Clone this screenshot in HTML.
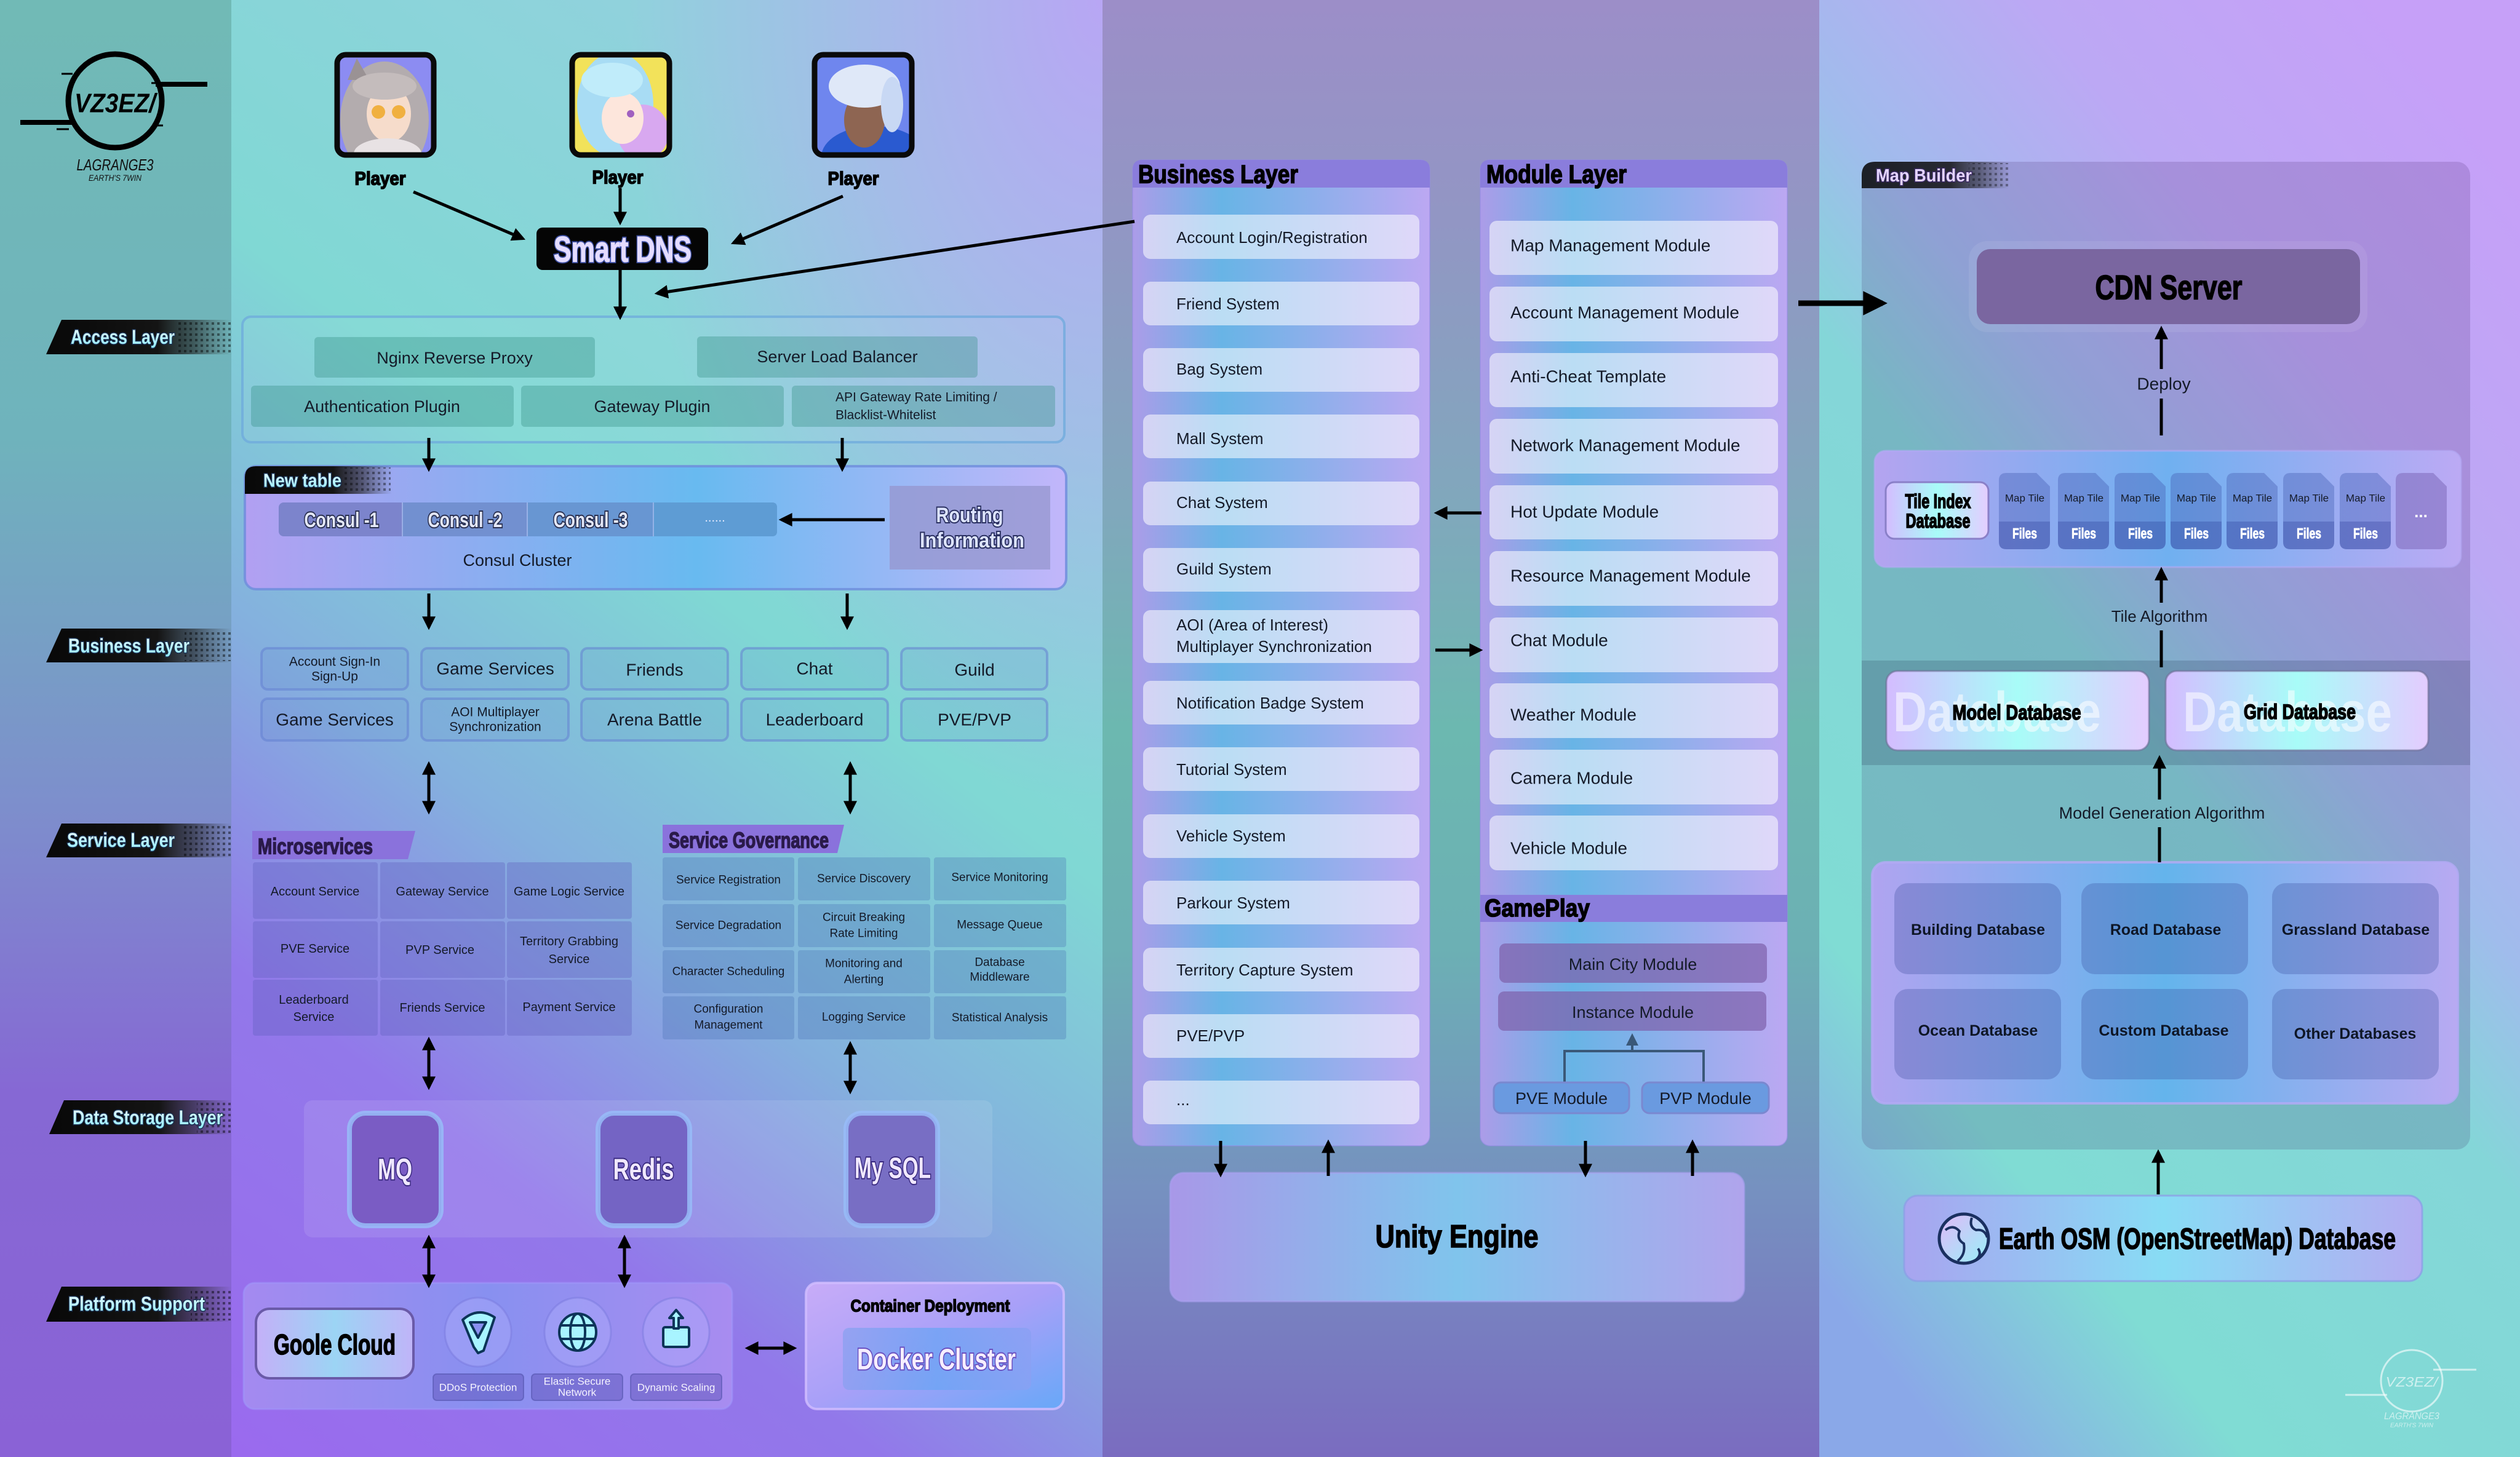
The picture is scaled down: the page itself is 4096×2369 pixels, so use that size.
<!DOCTYPE html>
<html><head><meta charset="utf-8"><style>
html,body{margin:0;padding:0;width:4096px;height:2369px;overflow:hidden;background:#80c8d0;}
svg{display:block}
text{font-family:"Liberation Sans",sans-serif;dominant-baseline:central;}
.h{font-weight:700;}
.d{fill:#141a28;}
.hk{font-weight:700;fill:#000;stroke:#000;stroke-width:1.6;}
</style></head><body>
<svg width="4096" height="2369" viewBox="0 0 4096 2369" xmlns="http://www.w3.org/2000/svg">
<defs>
<linearGradient id="gP1" x1="0" y1="0" x2="0" y2="1">
<stop offset="0" stop-color="#71bab6"/><stop offset="0.3" stop-color="#6fb3bc"/><stop offset="0.55" stop-color="#7d8fcc"/><stop offset="0.75" stop-color="#8668d4"/><stop offset="1" stop-color="#8a62d6"/></linearGradient>
<linearGradient id="gP2" x1="0.45" y1="0" x2="0" y2="1">
<stop offset="0" stop-color="#90d2dc"/><stop offset="0.3" stop-color="#80d8d4"/><stop offset="0.52" stop-color="#84b0de"/><stop offset="0.72" stop-color="#9278ea"/><stop offset="1" stop-color="#9a6aee"/></linearGradient>
<radialGradient id="gP2r" cx="1" cy="0" r="0.55"><stop offset="0" stop-color="#b8a6f4" stop-opacity="1"/><stop offset="1" stop-color="#b8a6f4" stop-opacity="0"/></radialGradient>
<linearGradient id="gP3" x1="0" y1="0" x2="0" y2="1">
<stop offset="0" stop-color="#9c8ec8"/><stop offset="0.15" stop-color="#9296c4"/><stop offset="0.35" stop-color="#80a8bc"/><stop offset="0.5" stop-color="#6cb8b0"/><stop offset="0.65" stop-color="#6cb0b4"/><stop offset="0.82" stop-color="#7690c0"/><stop offset="1" stop-color="#7a6cc0"/></linearGradient>
<linearGradient id="gP4" x1="0.8" y1="0" x2="0.2" y2="1">
<stop offset="0" stop-color="#c6a0f8"/><stop offset="0.22" stop-color="#bca8f4"/><stop offset="0.4" stop-color="#a0bcec"/><stop offset="0.52" stop-color="#84d6d8"/><stop offset="0.82" stop-color="#80dcd4"/><stop offset="1" stop-color="#8aa8e8"/></linearGradient>
<linearGradient id="gTag" x1="0" y1="0" x2="1" y2="0">
<stop offset="0" stop-color="#080808"/><stop offset="0.6" stop-color="#141414"/><stop offset="0.8" stop-color="#202020" stop-opacity="0.6"/><stop offset="1" stop-color="#303030" stop-opacity="0"/></linearGradient>
<linearGradient id="gTagT" x1="0" y1="0" x2="0" y2="1"><stop offset="0" stop-color="#f0ffff"/><stop offset="1" stop-color="#90ecff"/></linearGradient>
<linearGradient id="gNew" x1="0" y1="0" x2="1" y2="0"><stop offset="0" stop-color="#b2a0f2"/><stop offset="0.55" stop-color="#68baf0"/><stop offset="1" stop-color="#c2b6fa"/></linearGradient>
<linearGradient id="gCol" x1="0" y1="0" x2="1" y2="0"><stop offset="0" stop-color="#ac9ce8"/><stop offset="0.3" stop-color="#68b4e6"/><stop offset="0.55" stop-color="#86b0ea"/><stop offset="1" stop-color="#bca8f2"/></linearGradient>
<linearGradient id="gUnity" x1="0" y1="0" x2="1" y2="0"><stop offset="0" stop-color="#a898e8"/><stop offset="0.5" stop-color="#80c4ec"/><stop offset="1" stop-color="#b0a4ec"/></linearGradient>
<linearGradient id="gPlat" x1="0" y1="0" x2="1" y2="0"><stop offset="0" stop-color="#a48af0"/><stop offset="0.5" stop-color="#8890f0"/><stop offset="1" stop-color="#a88cf0"/></linearGradient>
<linearGradient id="gCont" x1="0" y1="0" x2="1" y2="1"><stop offset="0" stop-color="#c8acf8"/><stop offset="0.5" stop-color="#a8a0f8"/><stop offset="1" stop-color="#68a8f8"/></linearGradient>
<linearGradient id="gDock" x1="0" y1="0" x2="1" y2="0"><stop offset="0" stop-color="#8aa0f0"/><stop offset="0.5" stop-color="#6aa4f4"/><stop offset="1" stop-color="#8aa0f2"/></linearGradient>
<linearGradient id="gGoole" x1="0" y1="0" x2="1" y2="0"><stop offset="0" stop-color="#c4b0f8"/><stop offset="0.5" stop-color="#9cd4f4"/><stop offset="1" stop-color="#c0b4f8"/></linearGradient>
<linearGradient id="gTiles" x1="0" y1="0" x2="1" y2="0"><stop offset="0" stop-color="#b4a4f0"/><stop offset="0.5" stop-color="#70b0f0"/><stop offset="1" stop-color="#bcaaf4"/></linearGradient>
<linearGradient id="gLight" x1="0" y1="0" x2="1" y2="0"><stop offset="0" stop-color="#d4bcff"/><stop offset="0.5" stop-color="#a8fcf8"/><stop offset="1" stop-color="#e4ccff"/></linearGradient>
<linearGradient id="gDB" x1="0" y1="0" x2="1" y2="0"><stop offset="0" stop-color="#b0a4f0"/><stop offset="0.5" stop-color="#64b4ec"/><stop offset="1" stop-color="#b8aaf2"/></linearGradient>
<linearGradient id="gOSM" x1="0" y1="0" x2="1" y2="0"><stop offset="0" stop-color="#a8a4f0"/><stop offset="0.5" stop-color="#88dcf4"/><stop offset="1" stop-color="#b4acf2"/></linearGradient>
<linearGradient id="gGlobe" x1="0" y1="0" x2="1" y2="1"><stop offset="0" stop-color="#e0b8f8"/><stop offset="1" stop-color="#98f0f8"/></linearGradient>
<pattern id="dots" width="9" height="9" patternUnits="userSpaceOnUse"><rect x="2" y="2" width="4" height="4" fill="#000"/></pattern>
<marker id="ah" viewBox="0 0 10 10" refX="8" refY="5" markerWidth="5" markerHeight="4.4" orient="auto-start-reverse"><path d="M0,0 L10,5 L0,10 z" fill="#000"/></marker>
<marker id="ahs" viewBox="0 0 10 10" refX="8" refY="5" markerWidth="5" markerHeight="5" orient="auto-start-reverse"><path d="M0,0 L10,5 L0,10 z" fill="#3a5878"/></marker>
<clipPath id="c1"><rect x="548" y="89" width="157" height="163" rx="14"/></clipPath>
<clipPath id="c2"><rect x="930" y="89" width="158" height="163" rx="14"/></clipPath>
<clipPath id="c3"><rect x="1324" y="89" width="158" height="163" rx="14"/></clipPath>
</defs>

<!-- backgrounds -->
<rect x="0" y="0" width="376" height="2369" fill="url(#gP1)"/>
<rect x="376" y="0" width="1416" height="2369" fill="url(#gP2)"/>
<rect x="376" y="0" width="1416" height="2369" fill="url(#gP2r)"/>
<rect x="1792" y="0" width="1165" height="2369" fill="url(#gP3)"/>
<rect x="2957" y="0" width="1139" height="2369" fill="url(#gP4)"/>

<!-- logo -->
<g fill="none" stroke="#000">
<circle cx="187" cy="164" r="76" stroke-width="9"/>
<path d="M253,137 H337" stroke-width="8"/>
<path d="M33,199 H117" stroke-width="8"/>
<path d="M100,120 H118 M92,210 H112 M246,135 H268 M248,204 H265" stroke-width="3"/>
</g>
<text x="187" y="168" text-anchor="middle" class="h" font-size="44" font-style="italic" textLength="132" lengthAdjust="spacingAndGlyphs" fill="#000">VZ3EZ/</text>
<text x="187" y="268" text-anchor="middle" font-size="26" font-style="italic" textLength="125" lengthAdjust="spacingAndGlyphs" fill="#111">LAGRANGE3</text>
<text x="187" y="289" text-anchor="middle" font-size="14" font-style="italic" textLength="86" lengthAdjust="spacingAndGlyphs" fill="#111">EARTH'S 7WIN</text>

<!-- layer tags -->
<g>
<polygon points="100,520 377,520 377,576 75,576" fill="url(#gTag)"/>
<rect x="285" y="522" width="90" height="52" fill="url(#dots)" opacity="0.45"/>
<text x="115" y="548" class="h" font-size="32" textLength="169" lengthAdjust="spacingAndGlyphs" fill="url(#gTagT)" stroke="#1a3050" stroke-width="3" paint-order="stroke">Access Layer</text>
<polygon points="100,1022 377,1022 377,1077 75,1077" fill="url(#gTag)"/>
<rect x="300" y="1024" width="75" height="51" fill="url(#dots)" opacity="0.45"/>
<text x="111" y="1050" class="h" font-size="32" textLength="197" lengthAdjust="spacingAndGlyphs" fill="url(#gTagT)" stroke="#1a3050" stroke-width="3" paint-order="stroke">Business Layer</text>
<polygon points="100,1339 377,1339 377,1394 75,1394" fill="url(#gTag)"/>
<rect x="295" y="1341" width="80" height="51" fill="url(#dots)" opacity="0.45"/>
<text x="109" y="1366" class="h" font-size="32" textLength="175" lengthAdjust="spacingAndGlyphs" fill="url(#gTagT)" stroke="#1a3050" stroke-width="3" paint-order="stroke">Service Layer</text>
<polygon points="104,1789 377,1789 377,1844 80,1844" fill="url(#gTag)"/>
<rect x="320" y="1791" width="55" height="51" fill="url(#dots)" opacity="0.45"/>
<text x="118" y="1817" class="h" font-size="32" textLength="244" lengthAdjust="spacingAndGlyphs" fill="url(#gTagT)" stroke="#1a3050" stroke-width="3" paint-order="stroke">Data Storage Layer</text>
<polygon points="100,2092 377,2092 377,2149 75,2149" fill="url(#gTag)"/>
<rect x="310" y="2094" width="65" height="53" fill="url(#dots)" opacity="0.45"/>
<text x="111" y="2120" class="h" font-size="32" textLength="222" lengthAdjust="spacingAndGlyphs" fill="url(#gTagT)" stroke="#1a3050" stroke-width="3" paint-order="stroke">Platform Support</text>
</g>

<!-- players -->
<g clip-path="url(#c1)">
<rect x="548" y="89" width="157" height="163" fill="#8c8cf2"/>
<ellipse cx="625" cy="195" rx="72" ry="95" fill="#b3acae"/>
<polygon points="565,130 580,95 600,130" fill="#9a9294"/>
<ellipse cx="632" cy="185" rx="36" ry="46" fill="#f6dccb"/>
<ellipse cx="625" cy="140" rx="52" ry="22" fill="#c4bcbc"/>
<circle cx="615" cy="182" r="11" fill="#f0b040"/><circle cx="648" cy="182" r="11" fill="#f0b040"/>
<ellipse cx="630" cy="250" rx="55" ry="25" fill="#e8e2e4"/>
</g>
<rect x="548" y="89" width="157" height="163" rx="14" fill="none" stroke="#0a0a0a" stroke-width="9"/>
<g clip-path="url(#c2)">
<rect x="930" y="89" width="158" height="163" fill="#f2e25a"/>
<ellipse cx="1000" cy="170" rx="62" ry="85" fill="#a8dcf4"/>
<ellipse cx="1045" cy="215" rx="42" ry="45" fill="#d8a8f0"/>
<ellipse cx="1012" cy="192" rx="34" ry="42" fill="#fde6dc"/>
<ellipse cx="995" cy="130" rx="50" ry="28" fill="#c0ecfa"/>
<circle cx="1025" cy="185" r="6" fill="#a060c0"/>
</g>
<rect x="930" y="89" width="158" height="163" rx="14" fill="none" stroke="#0a0a0a" stroke-width="9"/>
<g clip-path="url(#c3)">
<rect x="1324" y="89" width="158" height="163" fill="#6f86ee"/>
<ellipse cx="1420" cy="255" rx="85" ry="50" fill="#2a5ad0"/>
<ellipse cx="1405" cy="195" rx="33" ry="45" fill="#8e6552"/>
<ellipse cx="1405" cy="140" rx="58" ry="35" fill="#dfe8f8"/>
<ellipse cx="1450" cy="170" rx="18" ry="45" fill="#c8d8f4"/>
</g>
<rect x="1324" y="89" width="158" height="163" rx="14" fill="none" stroke="#0a0a0a" stroke-width="9"/>
<text x="618" y="290" text-anchor="middle" class="hk" font-size="31" textLength="83" lengthAdjust="spacingAndGlyphs">Player</text>
<text x="1004" y="288" text-anchor="middle" class="hk" font-size="31" textLength="83" lengthAdjust="spacingAndGlyphs">Player</text>
<text x="1387" y="290" text-anchor="middle" class="hk" font-size="31" textLength="83" lengthAdjust="spacingAndGlyphs">Player</text>

<!-- Smart DNS -->
<rect x="872" y="370" width="279" height="69" rx="10" fill="#050505"/>
<text x="1012" y="406" text-anchor="middle" class="h" font-size="58" textLength="224" lengthAdjust="spacingAndGlyphs" fill="none" stroke="#5a78ff" stroke-width="5" stroke-opacity="0.6">Smart DNS</text>
<text x="1012" y="406" text-anchor="middle" class="h" font-size="58" textLength="224" lengthAdjust="spacingAndGlyphs" fill="#e4dcff" stroke="#e4dcff" stroke-width="1.2">Smart DNS</text>

<!-- Access layer -->
<rect x="394" y="515" width="1336" height="204" rx="14" fill="rgba(255,255,255,0.05)" stroke="rgba(110,170,220,0.75)" stroke-width="4"/>
<g fill="rgba(50,140,130,0.35)">
<rect x="511" y="548" width="456" height="66" rx="6"/>
<rect x="1133" y="547" width="456" height="67" rx="6"/>
<rect x="408" y="627" width="427" height="67" rx="6"/>
<rect x="847" y="627" width="427" height="67" rx="6"/>
<rect x="1287" y="627" width="428" height="67" rx="6"/>
</g>
<g class="d" font-size="27" text-anchor="middle">
<text x="739" y="582">Nginx Reverse Proxy</text>
<text x="1361" y="580">Server Load Balancer</text>
<text x="621" y="661">Authentication Plugin</text>
<text x="1060" y="661">Gateway Plugin</text>
</g>
<text x="1358" y="646" class="d" font-size="21">API Gateway Rate Limiting /</text>
<text x="1358" y="675" class="d" font-size="21">Blacklist-Whitelist</text>

<!-- New table -->
<rect x="398" y="758" width="1335" height="200" rx="18" fill="url(#gNew)" stroke="rgba(110,140,220,0.8)" stroke-width="4"/>
<path d="M416,758 H637 V803 H398 V776 Q398,758 416,758 Z" fill="url(#gTag)"/>
<rect x="560" y="760" width="75" height="41" fill="url(#dots)" opacity="0.4"/>
<text x="428" y="781" class="h" font-size="31" textLength="127" lengthAdjust="spacingAndGlyphs" fill="url(#gTagT)" stroke="#1a3050" stroke-width="3" paint-order="stroke">New table</text>
<rect x="453" y="817" width="810" height="55" rx="8" fill="#7c84cc"/>
<rect x="654" y="817" width="203" height="55" fill="#7290d0"/>
<rect x="857" y="817" width="205" height="55" fill="#6896d2"/>
<path d="M1062,817 H1255 Q1263,817 1263,825 V864 Q1263,872 1255,872 H1062 Z" fill="#5e9cd4"/>
<path d="M654,817 V872 M857,817 V872 M1062,817 V872" stroke="rgba(170,190,240,0.7)" stroke-width="2"/>
<g class="h" font-size="34" text-anchor="middle" fill="#e4e8f8" stroke="#2a3050" stroke-width="4" paint-order="stroke">
<text x="555" y="846" textLength="121" lengthAdjust="spacingAndGlyphs">Consul -1</text>
<text x="756" y="846" textLength="121" lengthAdjust="spacingAndGlyphs">Consul -2</text>
<text x="960" y="846" textLength="121" lengthAdjust="spacingAndGlyphs">Consul -3</text>
</g>
<text x="1162" y="842" text-anchor="middle" font-size="20" fill="#e8ecff">......</text>
<rect x="1446" y="790" width="261" height="136" fill="rgba(150,150,205,0.75)"/>
<g class="h" font-size="34" text-anchor="middle" fill="#dde4ff" stroke="#2a3060" stroke-width="4" paint-order="stroke">
<text x="1576" y="838" textLength="109" lengthAdjust="spacingAndGlyphs">Routing</text>
<text x="1580" y="879" textLength="170" lengthAdjust="spacingAndGlyphs">Information</text>
</g>
<text x="841" y="911" text-anchor="middle" font-size="27" class="d">Consul Cluster</text>

<!-- Business grid -->
<g fill="rgba(80,120,200,0.12)" stroke="rgba(100,130,210,0.55)" stroke-width="4">
<rect x="425" y="1054" width="238" height="67" rx="10"/><rect x="685" y="1054" width="239" height="67" rx="10"/><rect x="945" y="1054" width="238" height="67" rx="10"/><rect x="1205" y="1054" width="238" height="67" rx="10"/><rect x="1465" y="1054" width="237" height="67" rx="10"/>
<rect x="425" y="1136" width="238" height="68" rx="10"/><rect x="685" y="1136" width="239" height="68" rx="10"/><rect x="945" y="1136" width="238" height="68" rx="10"/><rect x="1205" y="1136" width="238" height="68" rx="10"/><rect x="1465" y="1136" width="237" height="68" rx="10"/>
</g>
<g class="d" font-size="28" text-anchor="middle">
<text x="805" y="1087">Game Services</text><text x="1064" y="1089">Friends</text><text x="1324" y="1087">Chat</text><text x="1584" y="1089">Guild</text>
<text x="544" y="1170">Game Services</text><text x="1064" y="1170">Arena Battle</text><text x="1324" y="1170">Leaderboard</text><text x="1584" y="1170">PVE/PVP</text>
</g>
<g class="d" font-size="21" text-anchor="middle">
<text x="544" y="1076">Account Sign-In</text><text x="544" y="1100">Sign-Up</text>
<text x="805" y="1158">AOI Multiplayer</text><text x="805" y="1182">Synchronization</text>
</g>

<!-- Service layer -->
<polygon points="410,1351 675,1351 663,1397 410,1397" fill="#8a72dc"/>
<text x="419" y="1376" class="h" font-size="36" textLength="187" lengthAdjust="spacingAndGlyphs" fill="#2a1a4a" stroke="#2a1a4a" stroke-width="1.5">Microservices</text>
<polygon points="1077,1341 1372,1341 1361,1387 1077,1387" fill="#8a72dc"/>
<text x="1087" y="1366" class="h" font-size="36" textLength="260" lengthAdjust="spacingAndGlyphs" fill="#2a1a4a" stroke="#2a1a4a" stroke-width="1.5">Service Governance</text>
<g fill="rgba(95,95,190,0.35)">
<rect x="411" y="1402" width="203" height="92" rx="4"/><rect x="618" y="1402" width="203" height="92" rx="4"/><rect x="824" y="1402" width="203" height="92" rx="4"/>
<rect x="411" y="1498" width="203" height="92" rx="4"/><rect x="618" y="1498" width="203" height="92" rx="4"/><rect x="824" y="1498" width="203" height="92" rx="4"/>
<rect x="411" y="1593" width="203" height="91" rx="4"/><rect x="618" y="1593" width="203" height="91" rx="4"/><rect x="824" y="1593" width="203" height="91" rx="4"/>
</g>
<g fill="rgba(70,110,180,0.3)">
<rect x="1077" y="1394" width="214" height="70" rx="4"/><rect x="1297" y="1394" width="215" height="70" rx="4"/><rect x="1518" y="1394" width="215" height="70" rx="4"/>
<rect x="1077" y="1470" width="214" height="70" rx="4"/><rect x="1297" y="1470" width="215" height="70" rx="4"/><rect x="1518" y="1470" width="215" height="70" rx="4"/>
<rect x="1077" y="1545" width="214" height="70" rx="4"/><rect x="1297" y="1545" width="215" height="70" rx="4"/><rect x="1518" y="1545" width="215" height="70" rx="4"/>
<rect x="1077" y="1620" width="214" height="70" rx="4"/><rect x="1297" y="1620" width="215" height="70" rx="4"/><rect x="1518" y="1620" width="215" height="70" rx="4"/>
</g>
<g class="d" font-size="20" text-anchor="middle">
<text x="512" y="1450">Account Service</text><text x="719" y="1450">Gateway Service</text><text x="925" y="1450">Game Logic Service</text>
<text x="512" y="1543">PVE Service</text><text x="715" y="1545">PVP Service</text><text x="925" y="1531">Territory Grabbing</text><text x="925" y="1560">Service</text>
<text x="510" y="1626">Leaderboard</text><text x="510" y="1654">Service</text><text x="719" y="1639">Friends Service</text><text x="925" y="1638">Payment Service</text>
</g>
<g class="d" font-size="19" text-anchor="middle">
<text x="1184" y="1431">Service Registration</text><text x="1404" y="1429">Service Discovery</text><text x="1625" y="1427">Service Monitoring</text>
<text x="1184" y="1505">Service Degradation</text><text x="1404" y="1492">Circuit Breaking</text><text x="1404" y="1518">Rate Limiting</text><text x="1625" y="1504">Message Queue</text>
<text x="1184" y="1580">Character Scheduling</text><text x="1404" y="1567">Monitoring and</text><text x="1404" y="1593">Alerting</text><text x="1625" y="1565">Database</text><text x="1625" y="1589">Middleware</text>
<text x="1184" y="1641">Configuration</text><text x="1184" y="1667">Management</text><text x="1404" y="1654">Logging Service</text><text x="1625" y="1655">Statistical Analysis</text>
</g>

<!-- Data storage -->
<rect x="494" y="1789" width="1119" height="223" rx="14" fill="rgba(255,255,255,0.1)"/>
<g stroke="#98bcf8" stroke-opacity="0.85" stroke-width="8">
<rect x="568" y="1810" width="149" height="183" rx="26" fill="#7a5cc4"/>
<rect x="972" y="1810" width="149" height="183" rx="26" fill="#7464c4"/>
<rect x="1375" y="1810" width="149" height="183" rx="26" fill="#786ec4"/>
</g>
<g class="h" font-size="48" text-anchor="middle" fill="#f0e8ff" stroke="#3a2a80" stroke-width="4" paint-order="stroke">
<text x="642" y="1902" textLength="56" lengthAdjust="spacingAndGlyphs">MQ</text>
<text x="1046" y="1902" textLength="99" lengthAdjust="spacingAndGlyphs">Redis</text>
<text x="1451" y="1900" textLength="124" lengthAdjust="spacingAndGlyphs">My SQL</text>
</g>

<!-- Platform -->
<rect x="396" y="2086" width="794" height="205" rx="18" fill="url(#gPlat)" stroke="rgba(160,150,250,0.6)" stroke-width="3"/>
<rect x="416" y="2128" width="256" height="113" rx="22" fill="url(#gGoole)" stroke="#6a5aa8" stroke-width="4"/>
<text x="544" y="2186" text-anchor="middle" class="hk" font-size="46" textLength="198" lengthAdjust="spacingAndGlyphs">Goole Cloud</text>
<g fill="rgba(180,180,255,0.35)" stroke="rgba(120,120,220,0.45)" stroke-width="3">
<ellipse cx="777" cy="2166" rx="54" ry="56"/><ellipse cx="939" cy="2166" rx="54" ry="56"/><ellipse cx="1099" cy="2166" rx="54" ry="56"/>
</g>
<g fill="#a8f4ff" stroke="#0c3458" stroke-width="4" stroke-linejoin="round">
<path d="M752,2146 Q777,2124 804,2142 L786,2196 L777,2200 L770,2190 Z"/>
<path d="M764,2150 L790,2150 L777,2175 Z" fill="#8a90f0"/>
<circle cx="939" cy="2166" r="30"/>
<ellipse cx="939" cy="2166" rx="12" ry="30" fill="none"/>
<path d="M911,2155 H967 M911,2177 H967" fill="none"/>
<rect x="1078" y="2158" width="42" height="32" rx="3"/>
<path d="M1099,2130 L1088,2143 H1095 V2160 H1103 V2143 H1110 Z"/>
</g>
<g fill="rgba(90,80,180,0.45)" stroke="rgba(80,80,170,0.55)" stroke-width="2">
<rect x="704" y="2234" width="147" height="43" rx="6"/><rect x="864" y="2234" width="148" height="43" rx="6"/><rect x="1025" y="2234" width="148" height="43" rx="6"/>
</g>
<g fill="#f4f2ff" font-size="17" text-anchor="middle">
<text x="777" y="2256">DDoS Protection</text>
<text x="938" y="2246">Elastic Secure</text><text x="938" y="2264">Network</text>
<text x="1099" y="2256">Dynamic Scaling</text>
</g>
<rect x="1310" y="2086" width="419" height="205" rx="18" fill="url(#gCont)" stroke="rgba(210,190,255,0.8)" stroke-width="4"/>
<text x="1512" y="2123" text-anchor="middle" class="hk" font-size="28" textLength="259" lengthAdjust="spacingAndGlyphs" stroke-width="1">Container Deployment</text>
<rect x="1370" y="2159" width="306" height="101" rx="10" fill="url(#gDock)" opacity="0.75"/>
<text x="1522" y="2211" text-anchor="middle" class="h" font-size="48" textLength="258" lengthAdjust="spacingAndGlyphs" fill="#f6eeff" stroke="#6a50c0" stroke-width="4" paint-order="stroke">Docker Cluster</text>

<!-- Middle columns -->
<rect x="1841" y="260" width="483" height="1603" rx="16" fill="url(#gCol)" stroke="rgba(150,140,230,0.5)" stroke-width="2"/>
<path d="M1857,260 H2308 Q2324,260 2324,276 V305 H1841 V276 Q1841,260 1857,260 Z" fill="#8a7ddc"/>
<text x="1850" y="283" class="hk" font-size="42" textLength="260" lengthAdjust="spacingAndGlyphs">Business Layer</text>
<g fill="rgba(255,255,255,0.55)">
<rect x="1858" y="349" width="449" height="72" rx="12"/>
<rect x="1858" y="458" width="449" height="71" rx="12"/>
<rect x="1858" y="566" width="449" height="71" rx="12"/>
<rect x="1858" y="674" width="449" height="71" rx="12"/>
<rect x="1858" y="783" width="449" height="71" rx="12"/>
<rect x="1858" y="891" width="449" height="71" rx="12"/>
<rect x="1858" y="992" width="449" height="86" rx="12"/>
<rect x="1858" y="1107" width="449" height="71" rx="12"/>
<rect x="1858" y="1215" width="449" height="71" rx="12"/>
<rect x="1858" y="1324" width="449" height="71" rx="12"/>
<rect x="1858" y="1432" width="449" height="71" rx="12"/>
<rect x="1858" y="1541" width="449" height="71" rx="12"/>
<rect x="1858" y="1649" width="449" height="71" rx="12"/>
<rect x="1858" y="1757" width="449" height="71" rx="12"/>
</g>
<g class="d" font-size="26">
<text x="1912" y="386">Account Login/Registration</text>
<text x="1912" y="494">Friend System</text>
<text x="1912" y="600">Bag System</text>
<text x="1912" y="713">Mall System</text>
<text x="1912" y="817">Chat System</text>
<text x="1912" y="925">Guild System</text>
<text x="1912" y="1016">AOI (Area of Interest)</text>
<text x="1912" y="1051">Multiplayer Synchronization</text>
<text x="1912" y="1143">Notification Badge System</text>
<text x="1912" y="1251">Tutorial System</text>
<text x="1912" y="1359">Vehicle System</text>
<text x="1912" y="1468">Parkour System</text>
<text x="1912" y="1577">Territory Capture System</text>
<text x="1912" y="1684">PVE/PVP</text>
<text x="1912" y="1788">...</text>
</g>

<rect x="2406" y="260" width="499" height="1603" rx="16" fill="url(#gCol)" stroke="rgba(150,140,230,0.5)" stroke-width="2"/>
<path d="M2422,260 H2889 Q2905,260 2905,276 V305 H2406 V276 Q2406,260 2422,260 Z" fill="#8a7ddc"/>
<text x="2416" y="283" class="hk" font-size="42" textLength="228" lengthAdjust="spacingAndGlyphs">Module Layer</text>
<g fill="rgba(255,255,255,0.55)">
<rect x="2421" y="359" width="469" height="88" rx="12"/>
<rect x="2421" y="466" width="469" height="89" rx="12"/>
<rect x="2421" y="574" width="469" height="88" rx="12"/>
<rect x="2421" y="681" width="469" height="89" rx="12"/>
<rect x="2421" y="789" width="469" height="88" rx="12"/>
<rect x="2421" y="896" width="469" height="89" rx="12"/>
<rect x="2421" y="1004" width="469" height="89" rx="12"/>
<rect x="2421" y="1111" width="469" height="89" rx="12"/>
<rect x="2421" y="1219" width="469" height="89" rx="12"/>
<rect x="2421" y="1326" width="469" height="89" rx="12"/>
</g>
<g class="d" font-size="28">
<text x="2455" y="399">Map Management Module</text>
<text x="2455" y="508">Account Management Module</text>
<text x="2455" y="612">Anti-Cheat Template</text>
<text x="2455" y="724">Network Management Module</text>
<text x="2455" y="832">Hot Update Module</text>
<text x="2455" y="936">Resource Management Module</text>
<text x="2455" y="1041">Chat Module</text>
<text x="2455" y="1162">Weather Module</text>
<text x="2455" y="1265">Camera Module</text>
<text x="2455" y="1379">Vehicle Module</text>
</g>
<rect x="2406" y="1455" width="499" height="44" fill="#8a7ddc"/>
<text x="2413" y="1477" class="hk" font-size="40" textLength="171" lengthAdjust="spacingAndGlyphs">GamePlay</text>
<rect x="2437" y="1534" width="435" height="64" rx="10" fill="rgba(125,95,170,0.7)"/>
<rect x="2435" y="1612" width="436" height="64" rx="10" fill="rgba(125,95,170,0.7)"/>
<g class="d" font-size="27" text-anchor="middle">
<text x="2654" y="1568">Main City Module</text>
<text x="2654" y="1646">Instance Module</text>
</g>
<path d="M2543,1760 V1709 H2769 V1760" fill="none" stroke="#3a5878" stroke-width="4"/>
<line x1="2653" y1="1709" x2="2653" y2="1684" stroke="#3a5878" stroke-width="4" marker-end="url(#ahs)"/>
<rect x="2428" y="1760" width="220" height="50" rx="12" fill="#6a9ae0" stroke="#7a88d0" stroke-width="3"/>
<rect x="2669" y="1760" width="206" height="50" rx="12" fill="#6a9ae0" stroke="#7a88d0" stroke-width="3"/>
<g class="d" font-size="27" text-anchor="middle">
<text x="2538" y="1786">PVE Module</text>
<text x="2772" y="1786">PVP Module</text>
</g>

<rect x="1902" y="1907" width="933" height="209" rx="22" fill="url(#gUnity)" stroke="rgba(170,160,240,0.6)" stroke-width="3"/>
<text x="2368" y="2011" text-anchor="middle" class="hk" font-size="52" textLength="265" lengthAdjust="spacingAndGlyphs" stroke-width="2">Unity Engine</text>

<!-- Right panel -->
<rect x="3026" y="263" width="989" height="1606" rx="22" fill="#3a2060" fill-opacity="0.17"/>
<rect x="3026" y="1074" width="989" height="170" fill="#203050" fill-opacity="0.2"/>
<path d="M3048,263 H3266 V306 H3026 V285 Q3026,263 3048,263 Z" fill="url(#gTag)" opacity="0.85"/>
<rect x="3200" y="265" width="64" height="39" fill="url(#dots)" opacity="0.35"/>
<text x="3049" y="286" class="h" font-size="29" textLength="156" lengthAdjust="spacingAndGlyphs" fill="#e4d4ff" stroke="#3a2a60" stroke-width="3" paint-order="stroke">Map Builder</text>
<rect x="3200" y="392" width="648" height="148" rx="30" fill="rgba(255,255,255,0.08)"/>
<rect x="3213" y="405" width="623" height="122" rx="22" fill="#7a66a0"/>
<text x="3525" y="467" text-anchor="middle" class="hk" font-size="56" textLength="239" lengthAdjust="spacingAndGlyphs" stroke-width="2">CDN Server</text>
<text x="3517" y="624" text-anchor="middle" font-size="28" class="d">Deploy</text>

<rect x="3047" y="733" width="953" height="189" rx="18" fill="url(#gTiles)" stroke="rgba(180,170,245,0.6)" stroke-width="3"/>
<rect x="3065" y="784" width="167" height="92" rx="14" fill="url(#gLight)" stroke="#8a80c8" stroke-width="3"/>
<g class="hk" font-size="32" text-anchor="middle" stroke-width="1.2">
<text x="3150" y="815" textLength="107" lengthAdjust="spacingAndGlyphs">Tile Index</text>
<text x="3150" y="847" textLength="105" lengthAdjust="spacingAndGlyphs">Database</text>
</g>
<g id="tiles">
<g fill="rgba(70,95,180,0.4)">
<path d="M3261,769 H3310 L3332,791 V848 H3249 V781 Q3249,769 3261,769 Z"/>
<path d="M3357,769 H3406 L3428,791 V848 H3345 V781 Q3345,769 3357,769 Z"/>
<path d="M3449,769 H3498 L3520,791 V848 H3437 V781 Q3437,769 3449,769 Z"/>
<path d="M3540,769 H3589 L3611,791 V848 H3528 V781 Q3528,769 3540,769 Z"/>
<path d="M3631,769 H3680 L3702,791 V848 H3619 V781 Q3619,769 3631,769 Z"/>
<path d="M3723,769 H3772 L3794,791 V848 H3711 V781 Q3711,769 3723,769 Z"/>
<path d="M3815,769 H3864 L3886,791 V848 H3803 V781 Q3803,769 3815,769 Z"/>
</g>
<g fill="rgba(50,70,160,0.55)">
<path d="M3249,848 H3332 V881 Q3332,893 3320,893 H3261 Q3249,893 3249,881 Z"/>
<path d="M3345,848 H3428 V881 Q3428,893 3416,893 H3357 Q3345,893 3345,881 Z"/>
<path d="M3437,848 H3520 V881 Q3520,893 3508,893 H3449 Q3437,893 3437,881 Z"/>
<path d="M3528,848 H3611 V881 Q3611,893 3599,893 H3540 Q3528,893 3528,881 Z"/>
<path d="M3619,848 H3702 V881 Q3702,893 3690,893 H3631 Q3619,893 3619,881 Z"/>
<path d="M3711,848 H3794 V881 Q3794,893 3782,893 H3723 Q3711,893 3711,881 Z"/>
<path d="M3803,848 H3886 V881 Q3886,893 3874,893 H3815 Q3803,893 3803,881 Z"/>
</g>
<path d="M3906,769 H3955 L3977,791 V881 Q3977,893 3965,893 H3906 Q3894,893 3894,881 V781 Q3894,769 3906,769 Z" fill="rgba(130,110,190,0.6)"/>
</g>
<g font-size="17" text-anchor="middle" class="d">
<text x="3291" y="810">Map Tile</text><text x="3387" y="810">Map Tile</text><text x="3479" y="810">Map Tile</text><text x="3570" y="810">Map Tile</text><text x="3661" y="810">Map Tile</text><text x="3753" y="810">Map Tile</text><text x="3845" y="810">Map Tile</text>
</g>
<g class="h" font-size="24" text-anchor="middle" fill="#fff" stroke="#fff" stroke-width="0.8">
<text x="3291" y="868" textLength="40" lengthAdjust="spacingAndGlyphs">Files</text><text x="3387" y="868" textLength="40" lengthAdjust="spacingAndGlyphs">Files</text><text x="3479" y="868" textLength="40" lengthAdjust="spacingAndGlyphs">Files</text><text x="3570" y="868" textLength="40" lengthAdjust="spacingAndGlyphs">Files</text><text x="3661" y="868" textLength="40" lengthAdjust="spacingAndGlyphs">Files</text><text x="3753" y="868" textLength="40" lengthAdjust="spacingAndGlyphs">Files</text><text x="3845" y="868" textLength="40" lengthAdjust="spacingAndGlyphs">Files</text>
</g>
<text x="3935" y="832" text-anchor="middle" class="h" font-size="26" fill="#fff">...</text>
<text x="3510" y="1002" text-anchor="middle" font-size="26" class="d">Tile Algorithm</text>

<rect x="3066" y="1091" width="427" height="129" rx="18" fill="url(#gLight)" stroke="rgba(110,110,150,0.6)" stroke-width="3"/>
<rect x="3520" y="1091" width="427" height="129" rx="18" fill="url(#gLight)" stroke="rgba(110,110,150,0.6)" stroke-width="3"/>
<g class="h" font-size="92" text-anchor="middle" fill="#fff" fill-opacity="0.55">
<text x="3246" y="1158" textLength="338" lengthAdjust="spacingAndGlyphs">Database</text>
<text x="3718" y="1158" textLength="340" lengthAdjust="spacingAndGlyphs">Database</text>
</g>
<g class="hk" font-size="34" text-anchor="middle" stroke-width="1.2">
<text x="3278" y="1159" textLength="209" lengthAdjust="spacingAndGlyphs">Model Database</text>
<text x="3738" y="1158" textLength="182" lengthAdjust="spacingAndGlyphs">Grid Database</text>
</g>
<text x="3514" y="1322" text-anchor="middle" font-size="27" class="d">Model Generation Algorithm</text>

<rect x="3043" y="1402" width="952" height="392" rx="22" fill="url(#gDB)" stroke="rgba(180,170,245,0.8)" stroke-width="4"/>
<g fill="rgba(50,70,150,0.28)">
<rect x="3079" y="1436" width="271" height="148" rx="22"/><rect x="3383" y="1436" width="271" height="148" rx="22"/><rect x="3693" y="1436" width="271" height="148" rx="22"/>
<rect x="3079" y="1608" width="271" height="147" rx="22"/><rect x="3383" y="1608" width="271" height="147" rx="22"/><rect x="3693" y="1608" width="271" height="147" rx="22"/>
</g>
<g class="h" font-size="25" text-anchor="middle" fill="#0e1626">
<text x="3215" y="1512">Building Database</text><text x="3520" y="1512">Road Database</text><text x="3829" y="1512">Grassland Database</text>
<text x="3215" y="1676">Ocean Database</text><text x="3517" y="1676">Custom Database</text><text x="3828" y="1681">Other Databases</text>
</g>

<rect x="3095" y="1944" width="842" height="139" rx="22" fill="url(#gOSM)" stroke="rgba(140,160,230,0.8)" stroke-width="3"/>
<circle cx="3192" cy="2014" r="40" fill="url(#gGlobe)" stroke="#1a3060" stroke-width="5"/>
<path d="M3162,2000 Q3175,1990 3185,2002 Q3180,2015 3192,2022 Q3195,2040 3182,2050 M3205,1980 Q3200,1995 3212,2000 Q3226,1998 3230,2012 M3215,2030 Q3222,2040 3212,2048" fill="none" stroke="#1a3060" stroke-width="4"/>
<text x="3249" y="2015" class="hk" font-size="48" textLength="645" lengthAdjust="spacingAndGlyphs" stroke-width="1.8">Earth OSM (OpenStreetMap) Database</text>

<!-- watermark logo -->
<g fill="none" stroke="#fff" stroke-opacity="0.6">
<circle cx="3920" cy="2245" r="50" stroke-width="3"/>
<path d="M3955,2227 H4025 M3812,2268 H3880" stroke-width="3"/>
</g>
<text x="3920" y="2247" text-anchor="middle" font-size="22" font-style="italic" textLength="85" lengthAdjust="spacingAndGlyphs" fill="#fff" fill-opacity="0.6">VZ3EZ/</text>
<text x="3920" y="2303" text-anchor="middle" font-size="16" font-style="italic" textLength="90" lengthAdjust="spacingAndGlyphs" fill="#fff" fill-opacity="0.6">LAGRANGE3</text>
<text x="3920" y="2318" text-anchor="middle" font-size="10" font-style="italic" textLength="70" lengthAdjust="spacingAndGlyphs" fill="#fff" fill-opacity="0.6">EARTH'S 7WIN</text>

<!-- arrows -->
<g stroke="#000" stroke-width="5" fill="none" marker-end="url(#ah)">
<line x1="672" y1="312" x2="850" y2="388"/>
<line x1="1008" y1="306" x2="1008" y2="362"/>
<line x1="1370" y1="319" x2="1192" y2="395"/>
<line x1="1008" y1="439" x2="1008" y2="516"/>
<line x1="1844" y1="360" x2="1068" y2="477"/>
<line x1="697" y1="712" x2="697" y2="763"/>
<line x1="1369" y1="712" x2="1369" y2="763"/>
<line x1="1438" y1="845" x2="1270" y2="845"/>
<line x1="697" y1="965" x2="697" y2="1020"/>
<line x1="1377" y1="965" x2="1377" y2="1020"/>
<line x1="2408" y1="834" x2="2335" y2="834"/>
<line x1="2333" y1="1057" x2="2406" y2="1057"/>
<line x1="1984" y1="1855" x2="1984" y2="1910"/>
<line x1="2159" y1="1912" x2="2159" y2="1857"/>
<line x1="2577" y1="1855" x2="2577" y2="1910"/>
<line x1="2751" y1="1912" x2="2751" y2="1857"/>
<line x1="3513" y1="600" x2="3513" y2="534"/>
<line x1="3513" y1="980" x2="3513" y2="926"/>
<line x1="3510" y1="1300" x2="3510" y2="1232"/>
<line x1="3508" y1="1942" x2="3508" y2="1873"/>
</g>
<g stroke="#000" stroke-width="5" fill="none" marker-start="url(#ah)" marker-end="url(#ah)">
<line x1="697" y1="1242" x2="697" y2="1320"/>
<line x1="1382" y1="1242" x2="1382" y2="1320"/>
<line x1="697" y1="1690" x2="697" y2="1768"/>
<line x1="1382" y1="1697" x2="1382" y2="1775"/>
<line x1="697" y1="2012" x2="697" y2="2090"/>
<line x1="1015" y1="2012" x2="1015" y2="2090"/>
<line x1="1215" y1="2192" x2="1291" y2="2192"/>
</g>
<g stroke="#000" stroke-width="5">
<line x1="3513" y1="708" x2="3513" y2="648"/>
<line x1="3513" y1="1085" x2="3513" y2="1025"/>
<line x1="3510" y1="1402" x2="3510" y2="1345"/>
</g>
<line x1="2923" y1="493" x2="3060" y2="493" stroke="#000" stroke-width="9" marker-end="url(#ah)"/>
</svg>
</body></html>
